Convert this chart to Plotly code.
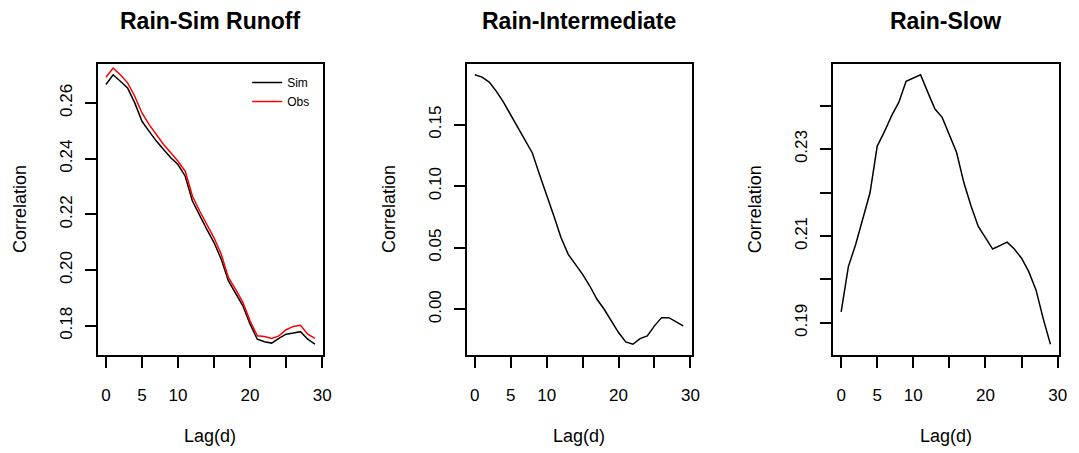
import plotly.graph_objects as go

# Lag in days
lag = list(range(30))

# Rain vs simulated runoff (Sim) and observed runoff (Obs)
sim_runoff = [0.2666, 0.2701, 0.2678, 0.2654, 0.2600, 0.2534, 0.2498, 0.2463, 0.2433, 0.2403,
              0.2379, 0.2337, 0.2248, 0.2194, 0.2146, 0.2099, 0.2039, 0.1961, 0.1919, 0.1872,
              0.1806, 0.1752, 0.1743, 0.1738, 0.1755, 0.1770, 0.1774, 0.1779, 0.1752, 0.1734]
obs_runoff = [0.2692, 0.2725, 0.2701, 0.2672, 0.2624, 0.2564, 0.2522, 0.2487, 0.2451, 0.2421,
              0.2391, 0.2355, 0.2266, 0.2212, 0.2164, 0.2116, 0.2057, 0.1973, 0.1931, 0.1884,
              0.1818, 0.1764, 0.1762, 0.1755, 0.1764, 0.1786, 0.1798, 0.1802, 0.1770, 0.1755]

# Rain vs intermediate flow
intermediate = [0.1905, 0.1886, 0.1846, 0.1770, 0.1681, 0.1576, 0.1481, 0.1378, 0.1270, 0.1095,
                0.0932, 0.0757, 0.0581, 0.0446, 0.0365, 0.0284, 0.0189, 0.0081, 0.0000, -0.0095,
                -0.0189, -0.0265, -0.0284, -0.0238, -0.0216, -0.0135, -0.0068, -0.0068, -0.0103, -0.0135]

# Rain vs slow flow
slow = [0.19255, 0.20296, 0.20798, 0.21377, 0.21994, 0.2307, 0.2340, 0.2377, 0.2408, 0.2456,
        0.2464, 0.2471, 0.2431, 0.2392, 0.2373, 0.2334, 0.2292, 0.2223, 0.2169, 0.2122,
        0.2095, 0.2070, 0.2078, 0.2086, 0.2070, 0.2049, 0.2018, 0.1976, 0.1910, 0.1851]

titles = ["Rain-Sim Runoff", "Rain-Intermediate", "Rain-Slow"]

x_tickvals = [0, 5, 10, 15, 20, 25, 30]
x_ticktext = ["0", "5", "10", "", "20", "", "30"]

y1_tickvals = [0.18, 0.20, 0.22, 0.24, 0.26]
y1_ticktext = ["0.18", "0.20", "0.22", "0.24", "0.26"]
y2_tickvals = [0.00, 0.05, 0.10, 0.15]
y2_ticktext = ["0.00", "0.05", "0.10", "0.15"]
y3_tickvals = [0.19, 0.20, 0.21, 0.22, 0.23, 0.24]
y3_ticktext = ["0.19", "", "0.21", "", "0.23", ""]

FONT = "Liberation Sans, Arial, sans-serif"
W, H = 1079, 453


def padded(vals, frac=0.04):
    lo, hi = min(vals), max(vals)
    d = (hi - lo) * frac
    return [lo - d, hi + d]


fig = go.Figure()
fig.add_trace(go.Scatter(x=lag, y=sim_runoff, mode="lines", name="Sim",
                         line=dict(color="black", width=1.5), xaxis="x", yaxis="y"))
fig.add_trace(go.Scatter(x=lag, y=obs_runoff, mode="lines", name="Obs",
                         line=dict(color="#ff0000", width=1.5), xaxis="x", yaxis="y"))
fig.add_trace(go.Scatter(x=lag, y=intermediate, mode="lines", showlegend=False,
                         line=dict(color="black", width=1.5), xaxis="x2", yaxis="y2"))
fig.add_trace(go.Scatter(x=lag, y=slow, mode="lines", showlegend=False,
                         line=dict(color="black", width=1.5), xaxis="x3", yaxis="y3"))

x_domains = [[98.3 / W, 325.7 / W], [470 / W, 696.7 / W], [839 / W, 1066.7 / W]]
y_domain = [1 - 355 / H, 1 - 64 / H]
x_range = padded(lag)

axis_common = dict(showline=True, linecolor="black", linewidth=1.8, mirror=True,
                   ticks="outside", ticklen=11, tickwidth=1.5, tickcolor="black",
                   showgrid=False, zeroline=False,
                   tickfont=dict(family=FONT, size=17, color="black"))

y_specs = [(sim_runoff, y1_tickvals, y1_ticktext),
           (intermediate, y2_tickvals, y2_ticktext),
           (slow, y3_tickvals, y3_ticktext)]

layout_axes = {}
for i in range(3):
    sx = "" if i == 0 else str(i + 1)
    vals, tv, tt = y_specs[i]
    layout_axes["xaxis" + sx] = dict(axis_common, domain=x_domains[i], range=x_range,
                                     tickvals=x_tickvals, ticktext=x_ticktext,
                                     anchor="y" + sx, ticklabelstandoff=13)
    layout_axes["yaxis" + sx] = dict(axis_common, domain=y_domain, range=padded(vals),
                                     tickvals=tv, ticktext=tt, tickangle=-90,
                                     anchor="x" + sx, ticklabelstandoff=6)

annotations = []
for i in range(3):
    sx = "" if i == 0 else str(i + 1)
    annotations.append(dict(text="<b>" + titles[i] + "</b>", xref="x" + sx + " domain",
                            yref="y" + sx + " domain", x=0.5, y=1, yshift=43,
                            xanchor="center", yanchor="middle", showarrow=False,
                            font=dict(family=FONT, size=23, color="black")))
    annotations.append(dict(text="Lag(d)", xref="x" + sx + " domain",
                            yref="y" + sx + " domain", x=0.5, y=0, yshift=-81,
                            xanchor="center", yanchor="middle", showarrow=False,
                            font=dict(family=FONT, size=18, color="black")))
    annotations.append(dict(text="Correlation", xref="x" + sx + " domain",
                            yref="y" + sx + " domain", x=0, y=0.5, xshift=-78,
                            xanchor="center", yanchor="middle", textangle=-90,
                            showarrow=False,
                            font=dict(family=FONT, size=18, color="black")))

fig.update_layout(
    width=W, height=H,
    margin=dict(l=0, r=0, t=0, b=0),
    paper_bgcolor="white", plot_bgcolor="white",
    showlegend=True,
    legend=dict(x=249 / W, y=1 - 68 / H, xanchor="left", yanchor="top",
                bgcolor="rgba(0,0,0,0)", borderwidth=0,
                font=dict(family=FONT, size=12, color="black"),
                itemwidth=30, tracegroupgap=0),
    annotations=annotations,
    **layout_axes,
)

fig.write_html("out.html")
